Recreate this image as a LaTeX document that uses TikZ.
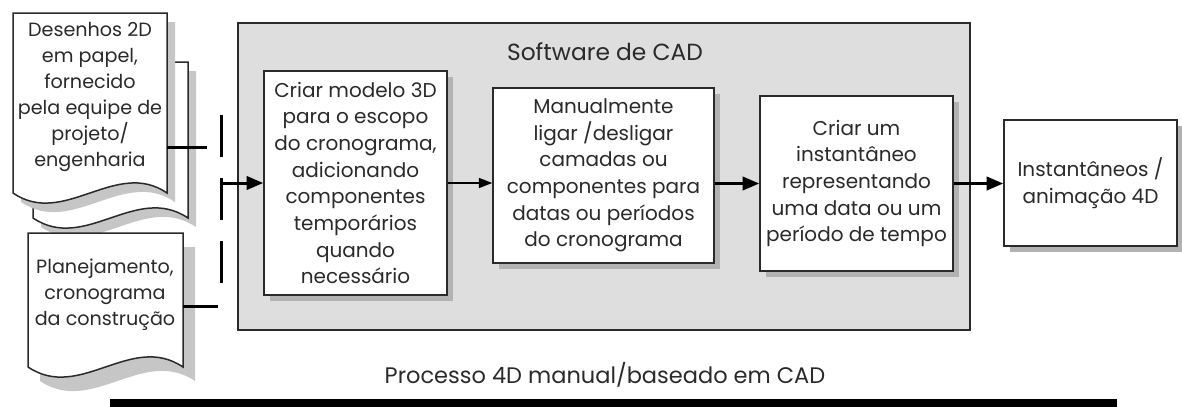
\documentclass[tikz,border=0pt]{standalone}
\usepackage{fontspec}
\setmainfont{Poppins}
\usetikzlibrary{arrows.meta,shadows}
\definecolor{ink}{HTML}{2A2A2A}
\definecolor{cadgray}{HTML}{DEDEDE}
\tikzset{
  cadframe/.style={draw=ink, fill=cadgray, line width=0.9pt, minimum width=439.2pt, minimum height=184.2pt, inner sep=0pt},
  stage/.style={draw=ink, fill=white, line width=0.9pt, align=center, inner sep=0pt, text=ink,
    font=\fontsize{12}{16}\selectfont,
    drop shadow={shadow xshift=3.5pt, shadow yshift=-3.5pt, fill=gray!60, opacity=1}},
  doctext/.style={align=center, inner sep=0pt, text=ink, font=\fontsize{11.5}{15.6}\selectfont},
  page/.style={draw=ink, fill=white, line width=0.9pt},
  pageshadow/.style={fill=gray!45},
  link/.style={draw=black, line width=1.8pt},
  flow/.style={-{Triangle[length=10pt, width=8pt]}, line width=1.8pt},
  thinflow/.style={-{Triangle[length=8pt, width=6pt]}, line width=0.9pt},
}
\begin{document}
\begin{tikzpicture}[x=0.6pt, y=-0.6pt]
\useasboundingbox (0,0) rectangle (1182,407);
\node[cadframe](cad) at (604,176.5) {};
\node[text=ink, font=\fontsize{14}{16}\selectfont](cadtitle) at (605,52) {Software de CAD};
%
\node[stage, minimum width=109.8pt, minimum height=134.4pt](model) at (355.5,183)
  {Criar modelo 3D\\para o escopo\\do cronograma,\\adicionando\\componentes\\temporários\\quando\\necessário};
\node[stage, minimum width=132.6pt, minimum height=105pt](layers) at (603.5,175.5)
  {Manualmente\\ligar /desligar\\camadas ou\\componentes para\\datas ou períodos\\do cronograma};
\node[stage, minimum width=115.8pt, minimum height=105pt](snapshot) at (856.5,183.5)
  {Criar um\\instantâneo\\representando\\uma data ou um\\período de tempo};
\node[stage, minimum width=103.8pt, minimum height=75.6pt](output) at (1090.5,183)
  {Instantâneos /\\animação 4D};
%
% paper documents
\fill[pageshadow, shift={(8,9)}] (33,62) -- (188,62) -- (188,218) .. controls (136,183) and (85,253) .. (33,218) -- cycle;
\draw[page] (33,62) -- (188,62) -- (188,218) .. controls (136,183) and (85,253) .. (33,218) -- cycle;
\fill[pageshadow, shift={(8,9)}] (13,13) -- (167,13) -- (167,193) .. controls (116,158) and (64,228) .. (13,193) -- cycle;
\draw[page] (13,13) -- (167,13) -- (167,193) .. controls (116,158) and (64,228) .. (13,193) -- cycle;
\fill[pageshadow, shift={(12,14)}] (28,233) -- (183,233) -- (183,367) .. controls (131,332) and (80,402) .. (28,367) -- cycle;
\draw[page] (28,233) -- (183,233) -- (183,367) .. controls (131,332) and (80,402) .. (28,367) -- cycle;
\node[doctext](drawings) at (90,97) {Desenhos 2D\\em papel,\\fornecido\\pela equipe de\\projeto/\\engenharia};
\node[doctext](schedule) at (105,295) {Planejamento,\\cronograma\\da construção};
%
\coordinate (tap1) at (167,147);
\coordinate (hub1) at (207,147);
\coordinate (tap2) at (183,306);
\coordinate (hub2) at (218,306);
\coordinate (bustop) at (221,115);
\coordinate (busbot) at (221,283);
\coordinate (join) at (221,183);
\draw[link] (tap1) -- (hub1);
\draw[link] (tap2) -- (hub2);
\draw[link, dash pattern=on 25.2pt off 12.6pt] (bustop) -- (busbot);
\draw[flow] (join) -- (model.west);
\draw[thinflow] (model.east) -- (model.east -| layers.west);
\draw[flow] (layers.east |- snapshot.west) -- (snapshot.west);
\draw[flow] (snapshot.east) -- (snapshot.east -| output.west);
%
\node[text=ink, font=\fontsize{13.5}{16}\selectfont](caption) at (605,375) {Processo 4D manual/baseado em CAD};
\fill[black] (110,399) rectangle (1117,410);
\end{tikzpicture}
\end{document}
